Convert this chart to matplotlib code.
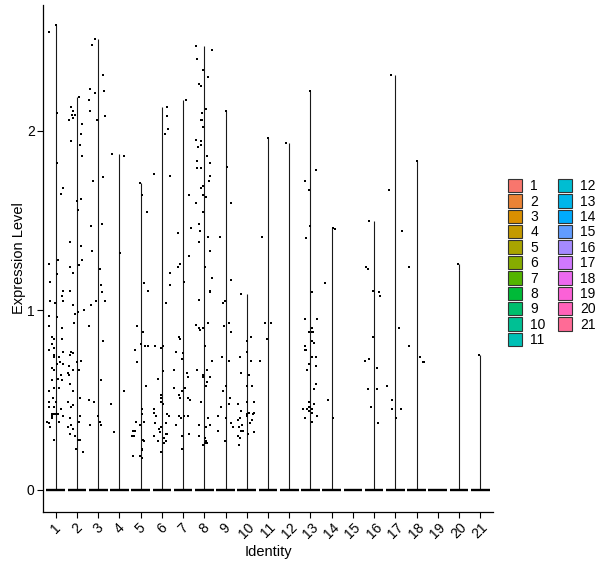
import numpy as np
import matplotlib.pyplot as plt
from matplotlib.patches import Patch

plt.rcParams['font.family'] = ['Liberation Sans', 'DejaVu Sans']

identities = [str(i) for i in range(1, 22)]

# non-zero expression values per identity (zeros form the bar at 0)
expr_values = [
    [2.59, 2.55, 2.10, 1.82, 1.68, 1.65, 1.28, 1.26, 1.20, 1.16, 1.11, 1.08, 1.05, 1.05, 1.04,
     0.97, 0.96, 0.91, 0.90, 0.85, 0.84, 0.84, 0.81, 0.79, 0.78, 0.77, 0.75, 0.74, 0.74, 0.71,
     0.70, 0.70, 0.68, 0.67, 0.64, 0.62, 0.61, 0.61, 0.57, 0.57, 0.55, 0.51, 0.49, 0.49, 0.46,
     0.46, 0.45, 0.42, 0.42, 0.42, 0.42, 0.41, 0.41, 0.40, 0.38, 0.38, 0.37, 0.35, 0.28],
    [2.19, 2.13, 2.11, 2.09, 2.09, 2.07, 2.06, 2.04, 1.98, 1.94, 1.92, 1.86, 1.62, 1.61, 1.56,
     1.38, 1.36, 1.28, 1.25, 1.24, 1.21, 1.11, 1.03, 1.00, 0.99, 0.98, 0.93, 0.77, 0.76, 0.75,
     0.72, 0.71, 0.69, 0.67, 0.67, 0.65, 0.64, 0.59, 0.55, 0.51, 0.49, 0.47, 0.46, 0.41, 0.40,
     0.38, 0.36, 0.35, 0.34, 0.31, 0.30, 0.28, 0.28, 0.23, 0.21],
    [2.51, 2.48, 2.31, 2.23, 2.22, 2.21, 2.17, 2.11, 2.08, 2.06, 1.74, 1.72, 1.48, 1.47, 1.33,
     1.23, 1.14, 1.10, 1.05, 1.05, 1.03, 0.91, 0.83, 0.61, 0.50, 0.49, 0.41, 0.38, 0.36, 0.36],
    [1.87, 1.86, 1.32, 0.55, 0.48, 0.32],
    [1.71, 1.64, 1.55, 1.15, 1.11, 0.91, 0.88, 0.81, 0.80, 0.80, 0.78, 0.71, 0.58, 0.45, 0.42,
     0.38, 0.38, 0.36, 0.33, 0.33, 0.30, 0.30, 0.28, 0.27, 0.23, 0.22, 0.19, 0.19, 0.18],
    [2.13, 2.08, 2.01, 1.98, 1.76, 1.75, 1.21, 1.14, 1.04, 0.80, 0.80, 0.79, 0.66, 0.62, 0.53,
     0.51, 0.49, 0.48, 0.45, 0.43, 0.42, 0.41, 0.41, 0.37, 0.37, 0.35, 0.34, 0.32, 0.31, 0.31,
     0.30, 0.29, 0.27, 0.27, 0.26, 0.21],
    [2.17, 1.64, 1.46, 1.43, 1.30, 1.26, 1.24, 1.16, 0.85, 0.84, 0.77, 0.76, 0.73, 0.67, 0.65,
     0.63, 0.57, 0.57, 0.55, 0.53, 0.51, 0.51, 0.50, 0.41, 0.41, 0.41, 0.40, 0.36, 0.31, 0.30,
     0.23],
    [2.47, 2.45, 2.40, 2.34, 2.30, 2.26, 2.25, 2.12, 2.10, 2.06, 2.06, 2.02, 1.95, 1.94, 1.91,
     1.92, 1.86, 1.83, 1.82, 1.79, 1.79, 1.75, 1.72, 1.69, 1.68, 1.64, 1.63, 1.60, 1.55, 1.48,
     1.44, 1.41, 1.38, 1.33, 1.24, 1.18, 1.11, 1.10, 1.06, 0.92, 0.93, 0.90, 0.89, 0.90, 0.80,
     0.72, 0.67, 0.67, 0.64, 0.63, 0.63, 0.60, 0.58, 0.49, 0.40, 0.36, 0.36, 0.35, 0.30, 0.29,
     0.27, 0.26, 0.26, 0.25],
    [2.11, 1.80, 1.60, 1.41, 1.17, 1.05, 1.04, 0.93, 0.91, 0.88, 0.74, 0.72, 0.58, 0.55, 0.51,
     0.48, 0.46, 0.41, 0.40, 0.37, 0.35, 0.33, 0.27],
    [1.09, 0.85, 0.83, 0.77, 0.74, 0.72, 0.65, 0.64, 0.58, 0.58, 0.48, 0.49, 0.49, 0.44, 0.43,
     0.43, 0.42, 0.42, 0.41, 0.40, 0.39, 0.39, 0.37, 0.36, 0.35, 0.33, 0.33, 0.32, 0.31, 0.30,
     0.29, 0.25],
    [1.96, 1.41, 0.93, 0.93, 0.84, 0.72],
    [1.93],
    [2.22, 1.78, 1.72, 1.67, 1.47, 1.40, 1.10, 0.95, 0.95, 0.90, 0.88, 0.88, 0.88, 0.83, 0.82,
     0.80, 0.78, 0.78, 0.74, 0.74, 0.70, 0.69, 0.67, 0.59, 0.56, 0.49, 0.48, 0.46, 0.46, 0.45,
     0.45, 0.45, 0.44, 0.43, 0.41, 0.40, 0.38],
    [1.46, 1.45, 1.15, 0.50, 0.40],
    [],
    [1.50, 1.24, 1.23, 1.11, 1.10, 1.08, 0.85, 0.72, 0.73, 0.68, 0.56, 0.56, 0.46, 0.37],
    [2.31, 1.67, 1.44, 0.90, 0.58, 0.50, 0.45, 0.45, 0.40],
    [1.83, 1.24, 0.80, 0.74, 0.71, 0.71],
    [],
    [1.26],
    [0.75],
]

# horizontal jitter of each cell
jitter_offsets = [
    [0.0, -0.3, 0.05, 0.05, 0.36, 0.27, 0.13, -0.3, 0.05, -0.25, 0.36, 0.31, -0.25, 0.36, -0.05,
     -0.3, 0.08, -0.3, 0.31, -0.16, 0.31, -0.06, -0.16, -0.06, -0.3, 0.36, -0.09, -0.06, 0.14, 0.22,
     0.36, 0.05, -0.19, -0.09, 0.27, 0.13, 0.31, -0.19, 0.14, -0.09, -0.34, -0.14, -0.34, 0.03, -0.06,
     -0.34, 0.27, -0.06, 0.03, 0.13, -0.19, -0.16, 0.36, -0.16, -0.39, 0.17, -0.34, -0.25, -0.06],
    [0.11, -0.26, -0.17, -0.25, -0.1, -0.21, -0.36, 0.26, 0.21, -0.26, 0.16, 0.26, 0.21, 0.02, 0.07,
     -0.31, 0.21, 0.26, 0.11, -0.31, -0.17, -0.31, -0.21, 0.35, 0.07, -0.09, -0.12, -0.26, -0.21, -0.31,
     0.21, 0.02, -0.36, -0.17, 0.11, -0.4, -0.36, -0.31, -0.17, 0.16, -0.4, -0.21, -0.26, 0.13, -0.31,
     0.11, -0.26, -0.4, -0.17, -0.31, -0.07, 0.07, 0.16, -0.03, 0.3],
    [-0.16, -0.3, 0.24, -0.37, 0.29, -0.16, -0.41, -0.37, 0.34, -0.04, 0.24, -0.23, 0.2, -0.32, -0.27,
     0.1, 0.15, 0.2, 0.34, -0.08, -0.32, -0.41, 0.24, 0.15, -0.41, -0.18, 0.01, 0.1, -0.37, 0.15],
    [-0.37, 0.2, 0.01, 0.23, -0.4, -0.24],
    [-0.05, 0.05, 0.28, 0.17, 0.36, -0.16, 0.13, 0.03, 0.36, 0.19, -0.25, -0.16, 0.27, 0.05, 0.08,
     -0.2, 0.14, -0.01, -0.36, -0.27, -0.39, -0.3, 0.13, 0.17, 0.05, 0.08, -0.34, -0.05, 0.05],
    [0.22, 0.22, 0.27, 0.13, -0.36, 0.36, 0.36, 0.36, 0.21, -0.31, 0.07, -0.03, 0.07, -0.17, -0.03,
     -0.06, -0.03, 0.07, -0.36, -0.36, 0.26, -0.26, 0.35, -0.31, 0.21, -0.03, -0.12, -0.07, 0.26, 0.21,
     -0.36, 0.12, 0.21, -0.17, 0.12, -0.03],
    [0.12, 0.26, 0.35, -0.26, 0.27, -0.16, -0.26, 0.02, -0.18, -0.13, -0.32, 0.01, -0.04, -0.41, 0.2,
     0.24, -0.41, 0.1, -0.04, -0.21, -0.16, 0.21, 0.34, -0.21, 0.06, 0.24, -0.08, -0.32, 0.26, -0.07,
     -0.07],
    [-0.41, 0.34, -0.36, -0.04, 0.15, -0.27, -0.18, 0.06, -0.13, -0.13, -0.18, -0.08, -0.41, -0.18, -0.32,
     -0.18, 0.11, -0.36, 0.25, -0.36, -0.18, 0.25, 0.2, -0.04, -0.18, -0.08, 0.06, -0.41, -0.08, -0.27,
     -0.22, 0.15, -0.27, 0.29, 0.01, 0.34, 0.25, 0.25, -0.24, -0.41, 0.15, -0.27, -0.22, -0.08, 0.04,
     0.34, -0.36, 0.11, -0.04, -0.04, 0.29, 0.11, 0.09, -0.18, 0.15, 0.25, -0.27, 0.06, -0.27, 0.01,
     0.06, 0.11, 0.01, -0.08],
    [0.0, 0.09, 0.28, -0.24, 0.27, -0.01, -0.11, 0.17, -0.05, 0.27, -0.19, 0.17, 0.03, -0.14, 0.22,
     0.17, -0.2, -0.34, 0.03, 0.27, 0.36, -0.34, -0.01],
    [-0.26, 0.21, 0.02, 0.02, -0.31, 0.21, -0.26, 0.11, 0.25, 0.02, -0.4, 0.02, 0.35, -0.26, 0.11,
     0.35, 0.3, 0.02, 0.02, -0.31, -0.4, 0.25, 0.16, -0.21, -0.36, -0.26, -0.17, 0.35, 0.07, -0.4,
     -0.31, -0.36],
    [-0.02, -0.27, -0.16, 0.12, -0.07, -0.37],
    [-0.13],
    [0.0, 0.28, -0.24, -0.09, -0.03, -0.19, 0.08, -0.24, 0.31, 0.08, -0.05, 0.05, 0.14, 0.05, 0.19,
     -0.24, -0.28, -0.19, 0.08, 0.24, -0.05, 0.28, -0.14, 0.24, 0.19, -0.05, 0.19, -0.09, 0.0, 0.09,
     -0.33, -0.14, -0.09, 0.05, 0.33, -0.28, 0.05],
    [0.07, 0.16, -0.31, -0.15, 0.04],
    [],
    [-0.22, -0.36, -0.27, -0.05, 0.25, 0.29, -0.05, -0.41, -0.22, 0.15, -0.27, 0.15, -0.13, 0.2],
    [-0.19, -0.28, 0.33, 0.17, -0.38, -0.16, -0.16, 0.27, 0.05],
    [0.0, -0.36, -0.36, 0.16, 0.3, 0.36],
    [],
    [-0.05],
    [-0.05],
]


def hue_pal(n, l=65.0, c=100.0):
    # ggplot2 default hue palette (polar Luv -> sRGB)
    hues = np.linspace(15, 375, n + 1)[:-1]
    xn, yn, zn = 95.047, 100.0, 108.883
    un = 4 * xn / (xn + 15 * yn + 3 * zn)
    vn = 9 * yn / (xn + 15 * yn + 3 * zn)
    out = []
    for h in hues:
        u = c * np.cos(np.radians(h))
        v = c * np.sin(np.radians(h))
        Y = yn * ((l + 16) / 116) ** 3
        up = u / (13 * l) + un
        vp = v / (13 * l) + vn
        X = Y * 9 * up / (4 * vp)
        Z = Y * (12 - 3 * up - 20 * vp) / (4 * vp)
        xyz = np.array([X, Y, Z]) / 100
        m = np.array([[3.2404542, -1.5371385, -0.4985314],
                      [-0.9692660, 1.8760108, 0.0415560],
                      [0.0556434, -0.2040259, 1.0572252]])
        rgb = m @ xyz
        rgb = np.where(rgb <= 0.0031308, 12.92 * rgb, 1.055 * np.abs(rgb) ** (1 / 2.4) - 0.055)
        out.append(tuple(np.clip(rgb, 0, 1)))
    return out


colors = hue_pal(len(identities))

fig = plt.figure(figsize=(6, 5.68), dpi=100)
ax = fig.add_axes([43 / 600, 56 / 568, 450 / 600, 507 / 568])

for i, (vals, offs) in enumerate(zip(expr_values, jitter_offsets)):
    x = i + 1
    if vals:
        ax.vlines(x, 0, max(vals), color='#1a1a1a', lw=0.8, zorder=2)
    ax.hlines(0, x - 0.44, x + 0.44, color='black', lw=1.7, zorder=3)
    ax.plot(x + np.array(offs), vals, 's', ms=1.5, color='black', mew=0, zorder=4)

ax.set_xlim(0.4, 21.6)
ax.set_ylim(-0.123, 2.70)
ax.set_xticks(range(1, 22))
ax.set_xticklabels(identities, rotation=45, ha='center')
ax.set_yticks([0, 1, 2])
ax.set_yticklabels(['0', '1', '2'])
ax.tick_params(direction='out', length=4, width=0.8, labelsize=10, colors='black', pad=2)

for s in ['top', 'right']:
    ax.spines[s].set_visible(False)
for s in ['left', 'bottom']:
    ax.spines[s].set_linewidth(0.9)
    ax.spines[s].set_color('black')

ax.set_xlabel('Identity', fontsize=10.5, labelpad=3)
ax.set_ylabel('Expression Level', fontsize=10.5)
ax.yaxis.set_label_coords(-0.038, 0.5)

handles = [Patch(facecolor=c, edgecolor='#333333', lw=0.8, label=lab)
           for c, lab in zip(colors, identities)]
fig.legend(handles=handles, loc='upper left', bbox_to_anchor=(508 / 600, 1 - 179 / 568),
           ncol=2, frameon=False, fontsize=10, handlelength=1.0, handleheight=1.1,
           labelspacing=0.07, handletextpad=0.6, columnspacing=0.9, borderpad=0,
           borderaxespad=0)

fig.savefig('out.png', dpi=100)
